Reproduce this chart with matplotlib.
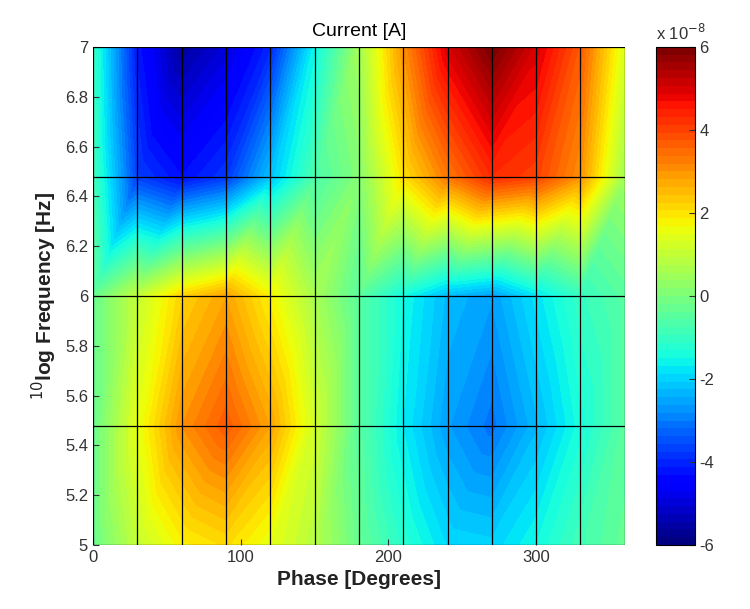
import numpy as np
import matplotlib
matplotlib.use('Agg')
import matplotlib.pyplot as plt
import matplotlib.tri as mtri
from matplotlib.colors import ListedColormap

plt.rcParams['font.family'] = ['Liberation Sans', 'DejaVu Sans']
plt.rcParams['axes.unicode_minus'] = False

# phase grid (degrees) and log10 frequency grid
phase = [0, 30, 60, 90, 120, 150, 180, 210, 240, 270, 300, 330, 360]
log_freq = [5.0, np.log10(3e5), 6.0, np.log10(3e6), 7.0]

# current in units of 1e-8 A, one row per frequency (bottom to top)
current_5 = [-0.3, 1.0, 1.8, 2.1, 1.5, 0.8, -0.3, -1.2, -1.9, -2.0, -1.5, -0.8, -0.3]
current_5p5 = [-0.3, 1.5, 3.0, 3.7, 2.8, 1.2, -0.5, -1.7, -2.6, -3.1, -2.3, -1.4, -0.5]
current_6 = [-0.3, 1.0, 2.2, 2.8, 1.8, 0.6, -0.5, -1.5, -2.3, -2.6, -1.8, -1.0, -0.5]
current_6p5 = [-0.8, -3.7, -4.3, -3.8, -2.2, -0.7, 0.1, 2.0, 3.3, 4.3, 4.0, 3.0, 0.5]
current_7 = [-1.0, -4.2, -5.6, -5.0, -4.0, -1.6, 0.5, 3.0, 5.0, 6.0, 5.0, 3.7, 1.3]

Z = np.array([current_5, current_5p5, current_6, current_6p5, current_7])
X, Y = np.meshgrid(phase, log_freq)
ny, nx = Z.shape

# split every grid cell in two triangles (interpolated surface shading)
tris = []
for j in range(ny - 1):
    for i in range(nx - 1):
        a = j * nx + i
        b = a + 1
        c = a + nx
        d = c + 1
        tris.append([a, b, d])
        tris.append([a, d, c])
tri = mtri.Triangulation(X.ravel(), Y.ravel(), tris)

jet64 = ListedColormap(plt.get_cmap('jet')(np.linspace(0, 1, 64)))

fig = plt.figure(figsize=(7.5, 6.09), dpi=100)
ax = fig.add_axes([0.124, 0.105, 0.709, 0.818])
levels = np.linspace(-6, 6, 65)
ax.tricontourf(tri, Z.ravel(), levels=levels, cmap=jet64, vmin=-6, vmax=6, extend='both')

# mesh edges like the surface grid
for p in phase:
    ax.axvline(p, color='black', lw=0.9)
for f in log_freq:
    ax.axhline(f, color='black', lw=0.9)

ax.set_xlim(0, 360)
ax.set_ylim(5, 7)
ax.set_xticks([0, 100, 200, 300])
ax.set_yticks(np.arange(5, 7.01, 0.2))
ax.set_yticklabels(['5', '5.2', '5.4', '5.6', '5.8', '6', '6.2', '6.4', '6.6', '6.8', '7'])
ax.tick_params(direction='in', labelsize=12, colors='#333333', length=4)
for s in ax.spines.values():
    s.set_visible(False)

ax.set_title('Current [A]', fontsize=14, pad=8)
ax.set_xlabel('Phase [Degrees]', fontsize=15, fontweight='bold', color='#222222')
ax.set_ylabel('$^{10}$log Frequency [Hz]', fontsize=15, fontweight='bold', color='#222222')

sm = plt.cm.ScalarMappable(cmap=jet64, norm=plt.Normalize(-6, 6))
cax = fig.add_axes([0.875, 0.105, 0.051, 0.818])
cb = fig.colorbar(sm, cax=cax, ticks=[-6, -4, -2, 0, 2, 4, 6])
cb.ax.tick_params(labelsize=12, direction='in', length=4, colors='#333333')
cb.outline.set_linewidth(0.8)
fig.text(0.875, 0.935, 'x 10$^{-8}$', fontsize=12, color='#333333')

fig.savefig('out.png', dpi=100)
